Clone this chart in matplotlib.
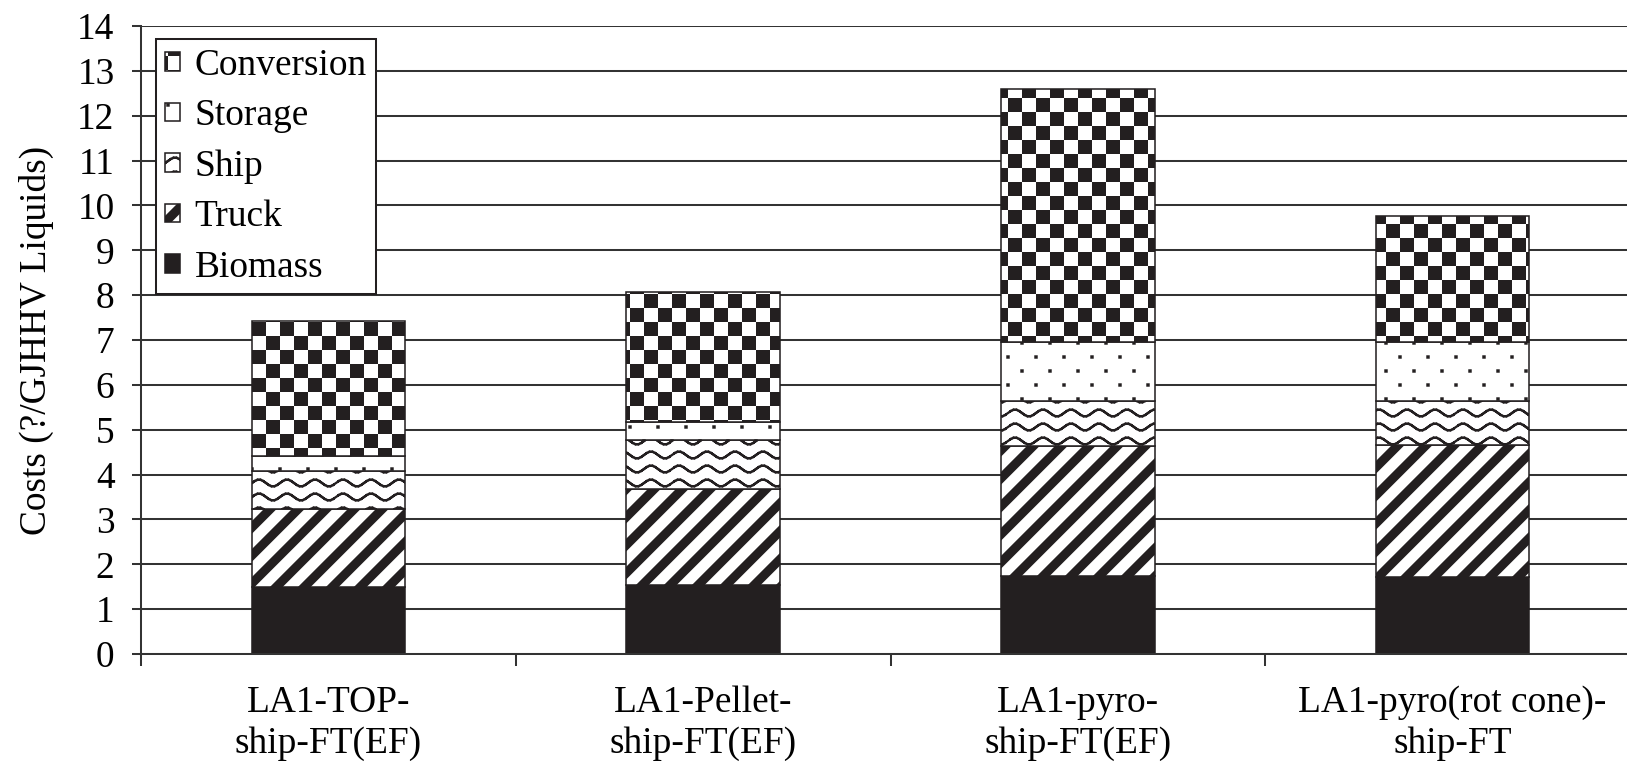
import numpy as np
import matplotlib
matplotlib.use('Agg')
import matplotlib.pyplot as plt
import matplotlib.hatch as mhatch
from matplotlib.path import Path

categories = ['LA1-TOP-\nship-FT(EF)', 'LA1-Pellet-\nship-FT(EF)',
              'LA1-pyro-\nship-FT(EF)', 'LA1-pyro(rot cone)-\nship-FT']
series = ['Biomass', 'Truck', 'Ship', 'Storage', 'Conversion']
biomass = [1.50, 1.54, 1.73, 1.72]
truck = [1.74, 2.13, 2.91, 2.93]
ship = [0.85, 1.10, 0.99, 0.98]
storage = [0.33, 0.41, 1.33, 1.33]
conversion = [3.00, 2.88, 5.63, 2.80]
yticks = list(range(0, 15))

DPI = 112
INK = '#231f20'
HATCH_LW = 1.5  # points
EDGE = HATCH_LW * DPI / 72 / 2 / DPI  # stroke half-width in tile units (tile = 1 inch)


# custom fill textures (Excel-like patterns) used as hatches
class Checker(mhatch.HatchPatternBase):
    def __init__(self, hatch, density):
        self.n = 8 if '+' in hatch else 0
        self.num_vertices = 5 * (self.n * self.n // 2)

    def set_vertices_and_codes(self, vertices, codes):
        n, k = self.n, 0
        s = 1.0 / n
        for i in range(n):
            for j in range(n):
                if (i + j) % 2:
                    continue
                x0, y0 = i * s + EDGE, j * s + EDGE
                x1, y1 = (i + 1) * s - EDGE, (j + 1) * s - EDGE
                vertices[k:k + 5] = [(x0, y0), (x1, y0), (x1, y1), (x0, y1), (x0, y0)]
                codes[k:k + 5] = [Path.MOVETO, Path.LINETO, Path.LINETO,
                                  Path.LINETO, Path.CLOSEPOLY]
                k += 5


class Stripes(mhatch.HatchPatternBase):
    def __init__(self, hatch, density):
        self.n = 4 if '/' in hatch else 0
        self.num_vertices = 5 * (2 * self.n + 1) if self.n else 0

    def set_vertices_and_codes(self, vertices, codes):
        n, k = self.n, 0
        d = 0.42 / n - 2 * EDGE
        for m in range(-n, n + 1):
            c = m / n
            vertices[k:k + 5] = [(0, c), (1, 1 + c), (1, 1 + c + d), (0, c + d), (0, c)]
            codes[k:k + 5] = [Path.MOVETO, Path.LINETO, Path.LINETO,
                              Path.LINETO, Path.CLOSEPOLY]
            k += 5


class Waves(mhatch.HatchPatternBase):
    rows, periods, steps = 8, 4, 10

    def __init__(self, hatch, density):
        self.on = '-' in hatch
        self.num_vertices = 2 * self.rows * self.periods * self.steps if self.on else 0

    def set_vertices_and_codes(self, vertices, codes):
        nseg = self.periods * self.steps
        xs = np.linspace(0, 1, nseg + 1)
        k = 0
        for r in range(self.rows):
            ys = (r + 0.5) / self.rows + 0.03 * np.sin(2 * np.pi * self.periods * xs)
            for i in range(nseg):
                vertices[k] = (xs[i], ys[i])
                vertices[k + 1] = (xs[i + 1], ys[i + 1])
                codes[k] = Path.MOVETO
                codes[k + 1] = Path.LINETO
                k += 2


class Dots(mhatch.HatchPatternBase):
    rows, cols = 8, 4

    def __init__(self, hatch, density):
        self.on = '.' in hatch
        self.num_vertices = 5 * self.rows * (self.cols + 1) if self.on else 0

    def set_vertices_and_codes(self, vertices, codes):
        h = 0.005
        k = 0
        for r in range(self.rows):
            y = (r + 0.5) / self.rows
            off = 0.5 if r % 2 else 0.0
            for c in range(self.cols + 1):
                x = (c + off) / self.cols
                vertices[k:k + 5] = [(x - h, y - h), (x + h, y - h), (x + h, y + h),
                                     (x - h, y + h), (x - h, y - h)]
                codes[k:k + 5] = [Path.MOVETO, Path.LINETO, Path.LINETO,
                                  Path.LINETO, Path.CLOSEPOLY]
                k += 5


mhatch._hatch_types[:] = [Checker, Stripes, Waves, Dots]

plt.rcParams['font.family'] = ['Liberation Serif', 'DejaVu Serif']
plt.rcParams['hatch.linewidth'] = HATCH_LW
plt.rcParams['hatch.color'] = INK

fig = plt.figure(figsize=(1627 / DPI, 762 / DPI), dpi=DPI)
ax = fig.add_axes([141 / 1627, 1 - 654 / 762, 1499 / 1627, 628 / 762])

x = np.arange(len(categories))
styles = {
    'Biomass': dict(color=INK, hatch=None),
    'Truck': dict(color='white', hatch='/'),
    'Ship': dict(color='white', hatch='-'),
    'Storage': dict(color='white', hatch='.'),
    'Conversion': dict(color='white', hatch='+'),
}
values = [biomass, truck, ship, storage, conversion]

bottom = np.zeros(len(categories))
handles = []
for name, vals in zip(series, values):
    st = styles[name]
    bars = ax.bar(x, vals, width=0.41, bottom=bottom, color=st['color'],
                  hatch=st['hatch'], edgecolor=INK, linewidth=1.0, label=name)
    handles.append(bars)
    bottom += np.array(vals)

ax.set_xlim(-0.5, 3.5)
ax.set_ylim(0, 14)
ax.set_yticks(yticks)
ax.set_axisbelow(True)
ax.yaxis.grid(True, color='#333333', linewidth=1.3)

ax.set_xticks(x)
ax.set_xticklabels(categories, fontsize=24, linespacing=1.25)
ax.set_xticks(np.arange(-0.5, 4.0, 1.0), minor=True)
ax.tick_params(axis='x', which='major', length=0, pad=20)
ax.tick_params(axis='x', which='minor', length=8, width=1.3, direction='out', color='#333333')
ax.tick_params(axis='y', length=6, width=1.3, direction='out', labelsize=24, pad=11,
               color='#333333')

for side in ['top', 'right']:
    ax.spines[side].set_visible(False)
for side in ['left', 'bottom']:
    ax.spines[side].set_linewidth(1.3)
    ax.spines[side].set_color('#333333')

ax.set_ylabel('Costs (?/GJHHV Liquids)', fontsize=24)
ax.yaxis.set_label_coords(-0.058, 0.5)

leg = ax.legend(handles[::-1], series[::-1], loc='upper left',
                bbox_to_anchor=(156 / 1627, 1 - 39 / 762), bbox_transform=fig.transFigure,
                borderaxespad=0, fontsize=24, handlelength=0.38, handleheight=0.38,
                handletextpad=0.4, labelspacing=0.43, borderpad=0.25,
                fancybox=False, framealpha=1, edgecolor=INK)
leg.get_frame().set_linewidth(1.3)

fig.savefig('out.png', dpi=DPI)
